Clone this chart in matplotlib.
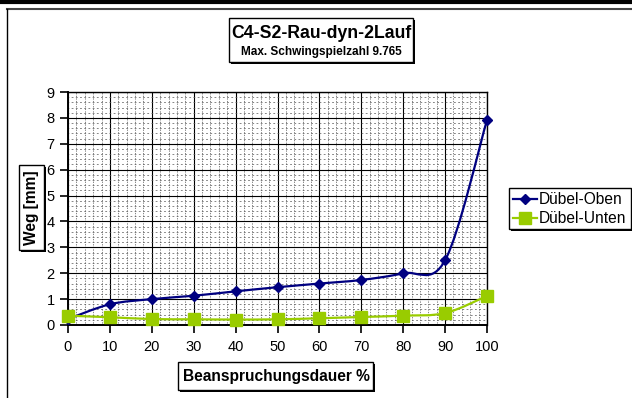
import numpy as np
import matplotlib
matplotlib.use("Agg")
import matplotlib.pyplot as plt
from matplotlib.path import Path
from matplotlib.patches import PathPatch, Rectangle
from matplotlib.lines import Line2D

plt.rcParams['font.family'] = ['Liberation Sans', 'DejaVu Sans']

x_vals = [0, 10, 20, 30, 40, 50, 60, 70, 80, 90, 100]
oben = [0.23, 0.80, 1.00, 1.13, 1.30, 1.46, 1.60, 1.74, 2.00, 2.50, 7.92]
unten = [0.36, 0.30, 0.23, 0.22, 0.21, 0.22, 0.26, 0.31, 0.36, 0.46, 1.12]
series_names = ['Dübel-Oben', 'Dübel-Unten']
title = 'C4-S2-Rau-dyn-2Lauf'
subtitle = 'Max. Schwingspielzahl 9.765'
xlabel = 'Beanspruchungsdauer %'
ylabel = 'Weg [mm]'

W, H = 632, 398
fig = plt.figure(figsize=(W / 100, H / 100), dpi=100)
fig.patch.set_facecolor('white')

def fx(px):
    return px / W

def fy(py):
    return 1 - py / H

ax = fig.add_axes([fx(68), fy(325), fx(487) - fx(68), fy(92) - fy(325)])

def smooth_path(xs, ys):
    pts = np.column_stack([xs, ys]).astype(float)
    n = len(pts)
    verts = [pts[0]]
    codes = [Path.MOVETO]
    for i in range(n - 1):
        p0 = pts[i - 1] if i > 0 else pts[i]
        p1 = pts[i]
        p2 = pts[i + 1]
        p3 = pts[i + 2] if i + 2 < n else pts[i + 1]
        c1 = p1 + (p2 - p0) / 6.0
        c2 = p2 - (p3 - p1) / 6.0
        verts += [c1, c2, p2]
        codes += [Path.CURVE4] * 3
    return Path(verts, codes)

c_oben = '#000080'
c_unten = '#99CC00'

ax.add_patch(PathPatch(smooth_path(x_vals, oben), fill=False, edgecolor=c_oben, lw=1.6, zorder=4))
ax.add_patch(PathPatch(smooth_path(x_vals, unten), fill=False, edgecolor=c_unten, lw=1.6, zorder=4))
ax.plot(x_vals, oben, linestyle='none', marker='D', color=c_oben, markersize=5, zorder=5, clip_on=False)
ax.plot(x_vals, unten, linestyle='none', marker='s', color=c_unten, markersize=8, zorder=5, clip_on=False)

ax.set_xlim(0, 100)
ax.set_ylim(0, 9)
ax.set_xticks(np.arange(0, 101, 10))
ax.set_yticks(np.arange(0, 10, 1))
ax.set_xticks(np.arange(0, 101, 2), minor=True)
ax.set_yticks(np.arange(0, 9.01, 0.2), minor=True)
ax.set_axisbelow(True)
ax.grid(which='major', color='black', lw=0.8)
# horizontal minor lines: dash period matches x minor cell (8.4 px)
ax.yaxis.grid(which='minor', color='#555555', lw=0.5, linestyle=(1.5, (2.6, 3.45)))
# vertical minor lines: dash period matches y minor cell (5.2 px)
ax.xaxis.grid(which='minor', color='#555555', lw=0.5, linestyle=(1.0, (1.9, 1.85)))
ax.tick_params(which='major', direction='out', length=6, width=1.2, labelsize=10.5, pad=5)
ax.tick_params(axis='y', pad=3.5)
ax.tick_params(which='minor', length=0)
for s in ax.spines.values():
    s.set_color('black')
    s.set_linewidth(1)
ax.spines['left'].set_linewidth(1.4)
ax.spines['bottom'].set_linewidth(1.4)

# outer frame lines
fig.add_artist(Line2D([0, 1], [fy(1.5), fy(1.5)], color='black', lw=3))
fig.add_artist(Line2D([fx(7), 1], [fy(8.5), fy(8.5)], color='#444444', lw=1.5))
fig.add_artist(Line2D([fx(7), fx(7)], [fy(8.5), 0], color='black', lw=1))

def shadow_box(x0, y0, x1, y1):
    fig.add_artist(Rectangle((fx(x0 + 2), fy(y1 + 2)), fx(x1 - x0), fy(y0) - fy(y1),
                             transform=fig.transFigure, fc='black', ec='none', zorder=9))
    fig.add_artist(Rectangle((fx(x0), fy(y1)), fx(x1 - x0), fy(y0) - fy(y1),
                             transform=fig.transFigure, fc='white', ec='black', lw=1, zorder=10))

# Title box
shadow_box(229, 18, 413, 62)
fig.text(fx(321), fy(33), title, fontsize=12.7, fontweight='bold', ha='center', va='center', zorder=11)
fig.text(fx(321), fy(52), subtitle, fontsize=8.5, fontweight='bold', ha='center', va='center', zorder=11)

# x label box
shadow_box(178, 362, 373, 390)
fig.text(fx(276), fy(376), xlabel, fontsize=11.2, fontweight='bold', ha='center', va='center', zorder=11)

# y label box
shadow_box(19, 165, 44, 250)
fig.text(fx(31.5), fy(207.5), ylabel, fontsize=11.2, fontweight='bold', ha='center', va='center',
         rotation=90, zorder=11)

# legend
shadow_box(509, 188, 631, 229)
leg_rows = [(c_oben, 'D', 5, 199), (c_unten, 's', 8, 218)]
for (col, mk, ms, py), name in zip(leg_rows, series_names):
    fig.add_artist(Line2D([fx(513), fx(537)], [fy(py), fy(py)], color=col, lw=1.6, zorder=11))
    fig.add_artist(Line2D([fx(525)], [fy(py)], color=col, marker=mk, markersize=ms,
                          linestyle='none', zorder=12))
    fig.text(fx(539), fy(py), name, fontsize=11.2, ha='left', va='center', zorder=11)

fig.savefig('out.png', dpi=100, facecolor='white')
